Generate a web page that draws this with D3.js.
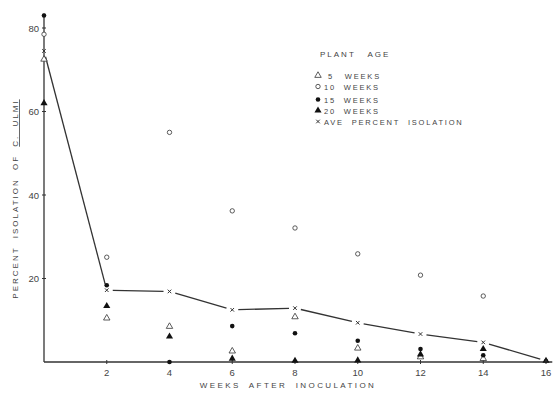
<!DOCTYPE html>
<html>
<head>
<meta charset="utf-8">
<script src="https://cdn.jsdelivr.net/npm/d3@7"></script>
<style>
  body { margin: 0; background: #fff; }
  text { font-family: "Liberation Sans", "DejaVu Sans", sans-serif; fill: #444; }
</style>
</head>
<body>
<div id="chart"></div>
<script>
// Percent isolation by weeks after inoculation, per plant age
const weeks = [0, 2, 4, 6, 8, 10, 12, 14, 16];
const age5 = [72.5, 10.5, 8.5, 2.6, 10.8, 3.3, 1.2, 0.8, null];
const age10 = [78.5, 25.1, 55, 36.2, 32.1, 25.9, 20.8, 15.8, null];
const age15 = [83, 18.4, 0, 8.6, 6.9, 5.1, 3.1, 1.6, null];
const age20 = [62, 13.4, 6.1, 0.8, 0.3, 0.4, 1.8, 3.1, 0.3];
const avgPct = [74.5, 17.2, 16.9, 12.5, 12.9, 9.4, 6.7, 4.7, 0.3];

const xTicks = [2, 4, 6, 8, 10, 12, 14, 16];
const yTicks = [20, 40, 60, 80];
const legendLabels = ["5 WEEKS", "10 WEEKS", "15 WEEKS", "20 WEEKS", "AVE PERCENT ISOLATION"];

const W = 555, H = 395;
const ink = "#333";

const x = d3.scaleLinear().domain([0, 16]).range([44, 546]);
const y = d3.scaleLinear().domain([0, 80]).range([362, 28]);

const svg = d3.select("#chart").append("svg")
  .attr("width", W).attr("height", H)
  .attr("viewBox", [0, 0, W, H]);

// Axes lines
svg.append("line")
  .attr("x1", x(0)).attr("x2", x(0))
  .attr("y1", y(0)).attr("y2", y(83.5))
  .attr("stroke", ink).attr("stroke-width", 1.3);
svg.append("line")
  .attr("x1", x(0)).attr("x2", x(16.2))
  .attr("y1", y(0)).attr("y2", y(0))
  .attr("stroke", ink).attr("stroke-width", 1.3);

// X ticks
const xt = svg.append("g");
xt.selectAll("line").data(xTicks).join("line")
  .attr("x1", d => x(d)).attr("x2", d => x(d))
  .attr("y1", y(0) - 2).attr("y2", y(0) + 2)
  .attr("stroke", ink);
xt.selectAll("text").data(xTicks).join("text")
  .attr("x", d => x(d)).attr("y", y(0) + 14)
  .attr("text-anchor", "middle")
  .style("font-size", "9.5px")
  .text(d => d);

// Y ticks
const yt = svg.append("g");
yt.selectAll("line").data(yTicks).join("line")
  .attr("x1", x(0) - 2).attr("x2", x(0) + 2)
  .attr("y1", d => y(d)).attr("y2", d => y(d))
  .attr("stroke", ink);
yt.selectAll("text").data(yTicks).join("text")
  .attr("x", x(0) - 5).attr("y", d => y(d) + 3.5)
  .attr("text-anchor", "end")
  .style("font-size", "9.5px")
  .text(d => d);

// Axis labels
svg.append("text")
  .attr("x", 288).attr("y", 388)
  .attr("text-anchor", "middle")
  .style("font-size", "8px")
  .style("letter-spacing", "2.4px")
  .style("word-spacing", "4px")
  .text("WEEKS AFTER INOCULATION");

const yl = svg.append("text")
  .attr("transform", "translate(18,199) rotate(-90)")
  .attr("text-anchor", "middle")
  .style("font-size", "8px")
  .style("letter-spacing", "2px")
  .style("word-spacing", "4px");
yl.append("tspan").text("PERCENT ISOLATION OF ");
yl.append("tspan").style("text-decoration", "underline").text("C. ULMI");

// Average line, drawn segment by segment with a gap at each marker
const gap = 6;
const pts = weeks.map((w, i) => [x(w), y(avgPct[i])]);
const segs = d3.pairs(pts).map(([a, b]) => {
  const dx = b[0] - a[0], dy = b[1] - a[1];
  const len = Math.hypot(dx, dy);
  const ux = dx / len, uy = dy / len;
  return [a[0] + ux * gap, a[1] + uy * gap, b[0] - ux * gap, b[1] - uy * gap];
});
svg.append("g").selectAll("line").data(segs).join("line")
  .attr("x1", d => d[0]).attr("y1", d => d[1])
  .attr("x2", d => d[2]).attr("y2", d => d[3])
  .attr("stroke", ink).attr("stroke-width", 1.3);

// Marker shapes
const triOpen = d3.symbol().type(d3.symbolTriangle).size(18);
const triFill = d3.symbol().type(d3.symbolTriangle).size(22);
const cross = d3.symbol().type(d3.symbolX).size(10);

function drawMarker(g, kind) {
  if (kind === "a5") {
    g.append("path").attr("d", triOpen()).attr("fill", "#fff")
      .attr("stroke", ink).attr("stroke-width", 0.8);
  } else if (kind === "a10") {
    g.append("circle").attr("r", 2.2).attr("fill", "#fff")
      .attr("stroke", ink).attr("stroke-width", 0.8);
  } else if (kind === "a15") {
    g.append("circle").attr("r", 2.3).attr("fill", "#111");
  } else if (kind === "a20") {
    g.append("path").attr("d", triFill()).attr("fill", "#111");
  } else {
    g.append("path").attr("d", cross()).attr("fill", "none")
      .attr("stroke", ink).attr("stroke-width", 1);
  }
}

const series = [
  { key: "a5", values: age5 },
  { key: "a10", values: age10 },
  { key: "a15", values: age15 },
  { key: "a20", values: age20 },
  { key: "avg", values: avgPct },
];

series.forEach(s => {
  weeks.forEach((w, i) => {
    const v = s.values[i];
    if (v === null) return;
    const g = svg.append("g").attr("transform", `translate(${x(w)},${y(v)})`);
    drawMarker(g, s.key);
  });
});

// Legend
const legend = svg.append("g").attr("transform", "translate(318,0)");
legend.append("text")
  .attr("x", 2).attr("y", 57)
  .style("font-size", "8px")
  .style("letter-spacing", "2px")
  .style("word-spacing", "8px")
  .text("PLANT AGE");

const legendY = [75.5, 86.5, 99.5, 110.5, 121.5];
series.forEach((s, i) => {
  const row = legend.append("g").attr("transform", `translate(0,${legendY[i]})`);
  drawMarker(row, s.key);
  row.append("text")
    .attr("x", i === 0 ? 10 : 6).attr("y", 3)
    .style("font-size", "7.5px")
    .style("letter-spacing", "1.8px")
    .style("word-spacing", i === 0 ? "7px" : "4px")
    .text(legendLabels[i]);
});
</script>
</body>
</html>
